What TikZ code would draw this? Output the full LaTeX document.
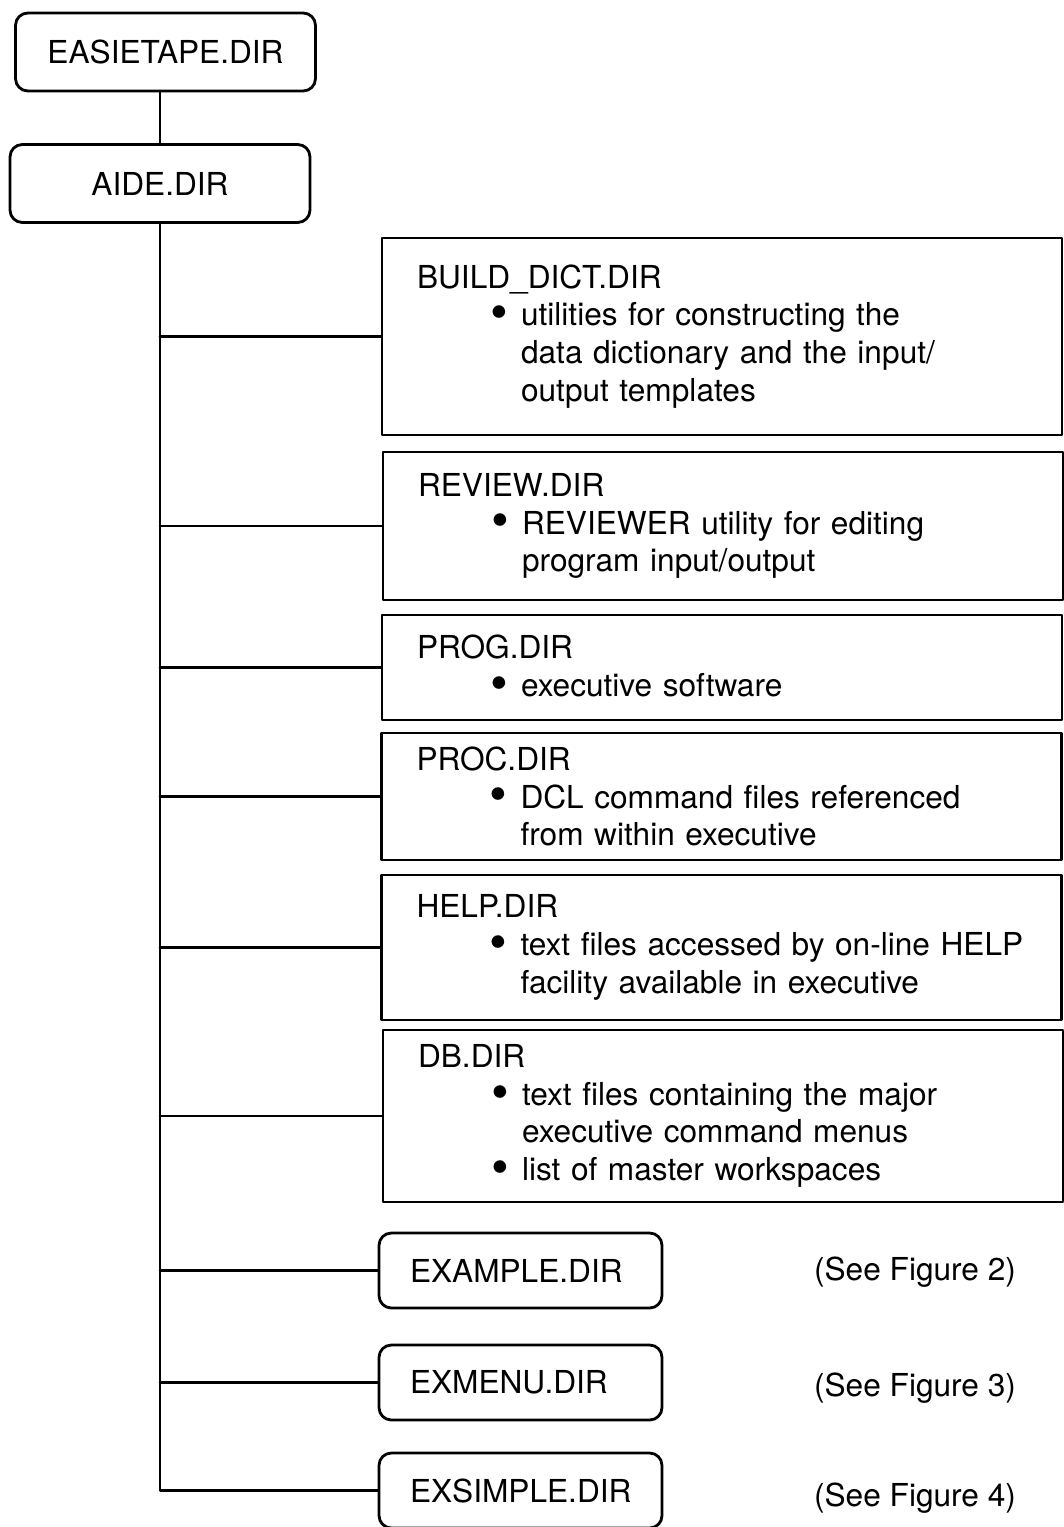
\documentclass[tikz,border=0pt]{standalone}
\usepackage{fontspec}
\setmainfont{TeX Gyre Heros}
\newcommand{\itm}{\hspace*{1.46cm}\makebox[0.62cm][l]{\raisebox{-0.12em}{\scalebox{1.6}{\textbullet}}}}
\newcommand{\cont}{\hspace*{2.08cm}}
\tikzset{
  every picture/.style={line join=round, line cap=round},
  dirfont/.style={font=\fontsize{18}{21.5}\selectfont},
  topbox/.style={draw, line width=1.6pt, rounded corners=7pt, dirfont, minimum width=6cm, minimum height=1.56cm},
  dirbox/.style={draw, line width=1.6pt, rounded corners=7pt, dirfont, align=left, inner xsep=0.62cm, text width=4.42cm, minimum height=1.5cm},
  notebox/.style={draw, line width=1.6pt, dirfont, align=left, inner xsep=0.7cm, text width=12.2cm},
  branch/.style={line width=1.6pt},
}

\begin{document}
\begin{tikzpicture}[x=0.02cm,y=-0.02cm]
\useasboundingbox (0,0) rectangle (1064,1527);
% top of the tree
\node[topbox] (easie) at (165.5,52) {EASIETAPE.DIR};
\node[topbox] (aide) at (160,183.5) {AIDE.DIR};
\draw[branch] (easie.south -| aide.north) -- (aide.north);
% described directories
\node[notebox,minimum height=3.94cm] (build) at (722,336.5) {BUILD\_DICT.DIR\\\itm utilities for constructing the\\\cont data dictionary and the input/\\\cont output templates};
\node[notebox,minimum height=2.96cm] (review) at (723,526) {REVIEW.DIR\\\itm REVIEWER utility for editing\\\cont program input/output};
\node[notebox,minimum height=2.1cm] (prog) at (722,667.5) {PROG.DIR\\\itm executive software};
\node[notebox,minimum height=2.54cm] (proc) at (721.5,796.5) {PROC.DIR\\\itm DCL command files referenced\\\cont from within executive};
\node[notebox,minimum height=2.9cm] (help) at (721.5,947.5) {HELP.DIR\\\itm text files accessed by on-line HELP\\\cont facility available in executive};
\node[notebox,minimum height=3.44cm] (db) at (723,1116) {DB.DIR\\\itm text files containing the major\\\cont executive command menus\\\itm list of master workspaces};
% example directories
\node[dirbox] (example) at (520.5,1270.5) {EXAMPLE.DIR};
\node[dirbox] (exmenu) at (520.5,1382.5) {EXMENU.DIR};
\node[dirbox] (exsimple) at (520.5,1490.5) {EXSIMPLE.DIR};
\node[dirfont] (fig2) at (915,1272) {(See Figure 2)};
\node[dirfont] (fig3) at (915,1388) {(See Figure 3)};
\node[dirfont] (fig4) at (915,1498) {(See Figure 4)};
% trunk and branches
\draw[branch] (aide.south) |- (exsimple.west);
\foreach \d in {build,review,prog,proc,help,db,example,exmenu}
  \draw[branch] (aide.south |- \d.west) -- (\d.west);
\end{tikzpicture}
\end{document}
